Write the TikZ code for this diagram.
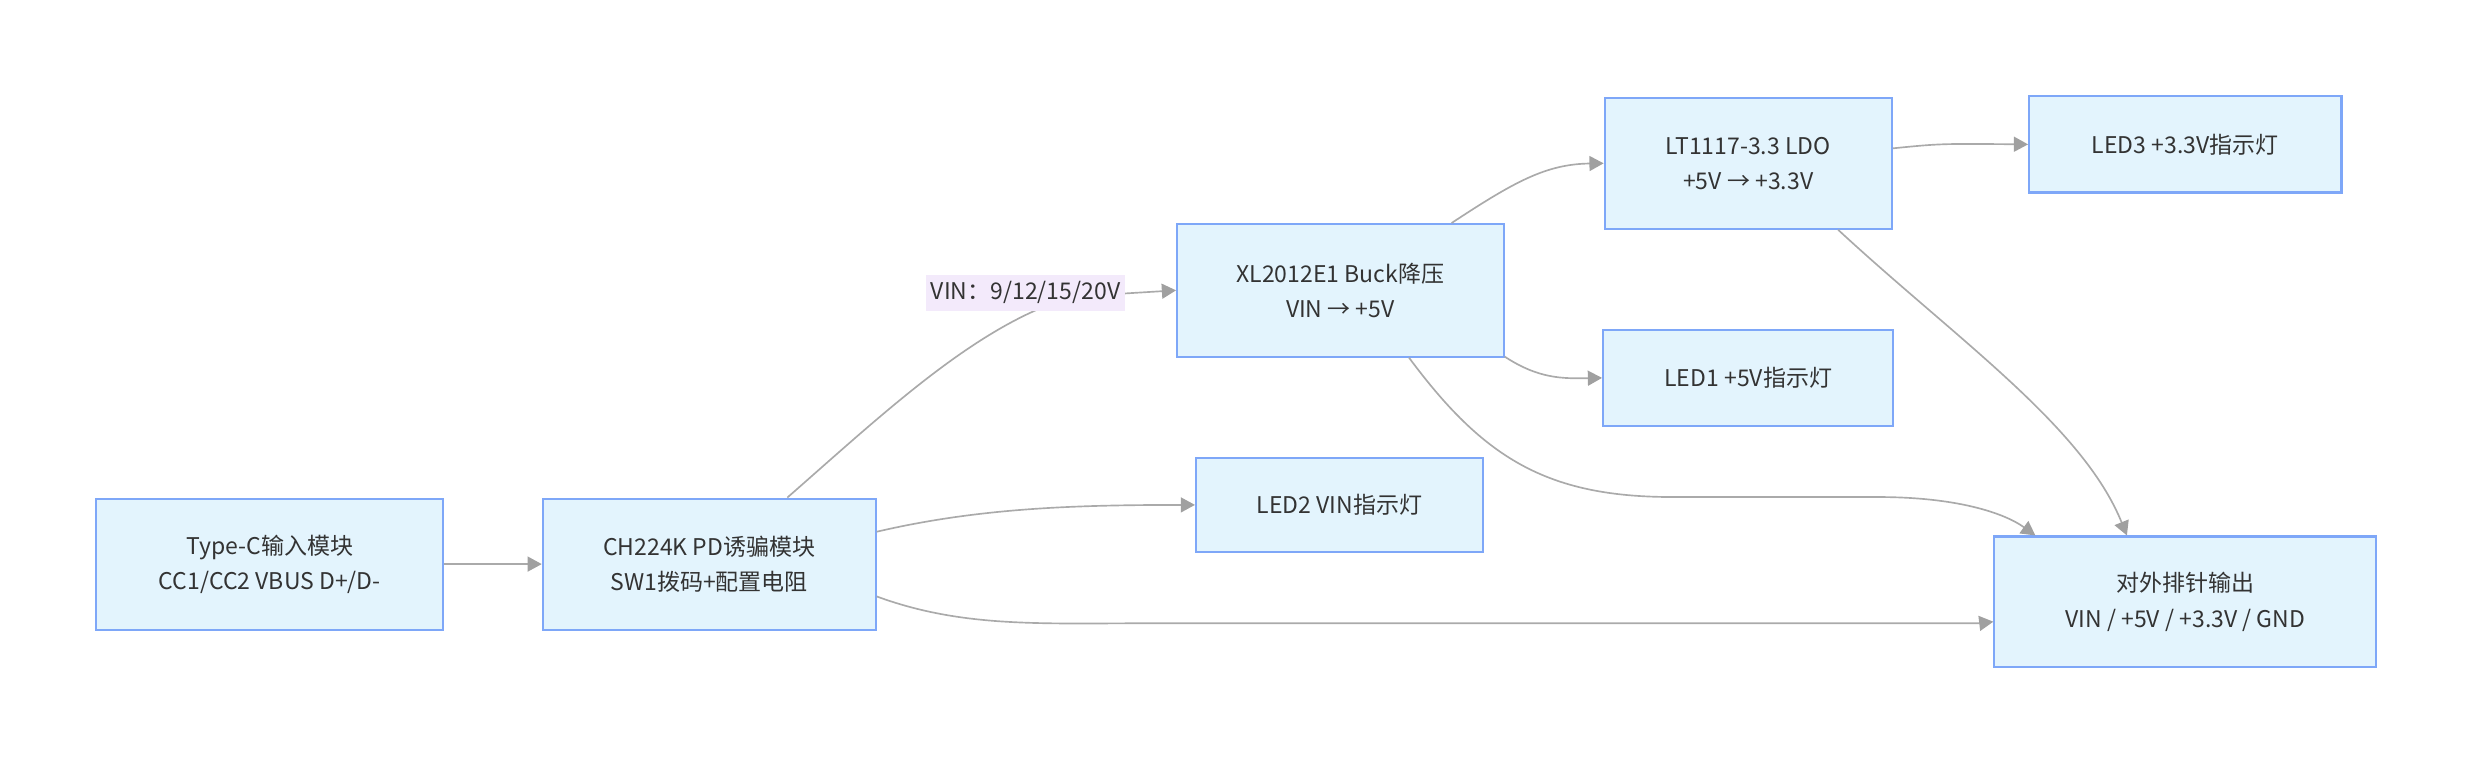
\documentclass[tikz,border=0pt]{standalone}
\usepackage{fontspec}
\setmainfont{Noto Sans CJK SC}
\usepackage{tikz}
\usetikzlibrary{arrows.meta}
\usetikzlibrary{calc}
\definecolor{boxfill}{HTML}{E3F4FD}
\definecolor{boxline}{HTML}{7EA7F8}
\definecolor{wire}{HTML}{AAAAAA}
\definecolor{tipfill}{HTML}{A0A0A0}
\definecolor{lblfill}{HTML}{F3EAFB}
\definecolor{txt}{HTML}{333333}

\begin{document}
\begin{tikzpicture}[x=0.02cm,y=-0.02cm,
	modbox/.style={draw=boxline,fill=boxfill,line width=0.75pt,text=txt,align=center,inner sep=0pt,font=\fontsize{8.3}{12.7}\selectfont},
	conn/.style={draw=wire,line width=0.6pt,-{Triangle[length=0.18cm,width=0.19cm,fill=tipfill,color=tipfill]}}]
	\useasboundingbox (0,0) rectangle (1568,485);
	% modules
	\node[modbox,minimum width=4.40cm,minimum height=1.66cm] (typec) at (171,357.5) {Type-C输入模块\\CC1/CC2 VBUS D+/D-};
	\node[modbox,minimum width=4.22cm,minimum height=1.66cm] (pdtrig) at (449.5,357.5) {CH224K PD诱骗模块\\SW1拨码+配置电阻};
	\node[modbox,minimum width=4.14cm,minimum height=1.68cm] (buck) at (849.5,184) {XL2012E1 Buck降压\\VIN → +5V};
	\node[modbox,minimum width=3.64cm,minimum height=1.66cm] (ldo) at (1108,103.5) {LT1117-3.3 LDO\\+5V → +3.3V};
	\node[modbox,minimum width=3.96cm,minimum height=1.22cm] (ledthree) at (1385,91.5) {LED3 +3.3V指示灯};
	\node[modbox,minimum width=3.68cm,minimum height=1.22cm] (ledone) at (1108,239.5) {LED1 +5V指示灯};
	\node[modbox,minimum width=3.64cm,minimum height=1.20cm] (ledtwo) at (849,320) {LED2 VIN指示灯};
	\node[modbox,minimum width=4.84cm,minimum height=1.66cm] (header) at (1385,381.5) {对外排针输出\\VIN / +5V / +3.3V / GND};
	% connections
	\draw[conn] (typec.east) -- (pdtrig.west);
	\draw[conn] ($(pdtrig.north)+(49.5,0)$) .. controls (560,262) and (620,205) .. (680,188) -- (buck.west);
	\node[fill=lblfill,text=txt,inner sep=0pt,minimum width=2.52cm,minimum height=0.46cm,font=\fontsize{8.3}{10}\selectfont] (vinlbl) at (650,185.5) {VIN：9/12/15/20V};
	\draw[conn] ($(pdtrig.east)+(0,-20.5)$) .. controls (620,322) and (680,320) .. (ledtwo.west);
	\draw[conn] ($(pdtrig.east)+(0,20.5)$) .. controls (610,398) and (660,395) .. (730,395) -- (1240,395) .. controls (1255,395) .. ($(header.west)+(0,12.5)$);
	\draw[conn] ($(buck.north)+(70.5,0)$) .. controls (960,115) and (980,104) .. (ldo.west);
	\draw[conn] ($(buck.east)+(0,42)$) .. controls (975,240) and (990,240) .. (ledone.west);
	\draw[conn] ($(buck.south)+(43.5,0)$) .. controls (940,290) and (980,315) .. (1060,315) -- (1190,315) .. controls (1240,315) and (1270,325) .. ($(header.north)+(-95,0)$);
	\draw[conn] ($(ldo.east)+(0,-9.5)$) .. controls (1230,91) .. (ledthree.west);
	\draw[conn] ($(ldo.south)+(57,0)$) .. controls (1240,215) and (1320,270) .. ($(header.north)+(-37,0)$);
\end{tikzpicture}
\end{document}
